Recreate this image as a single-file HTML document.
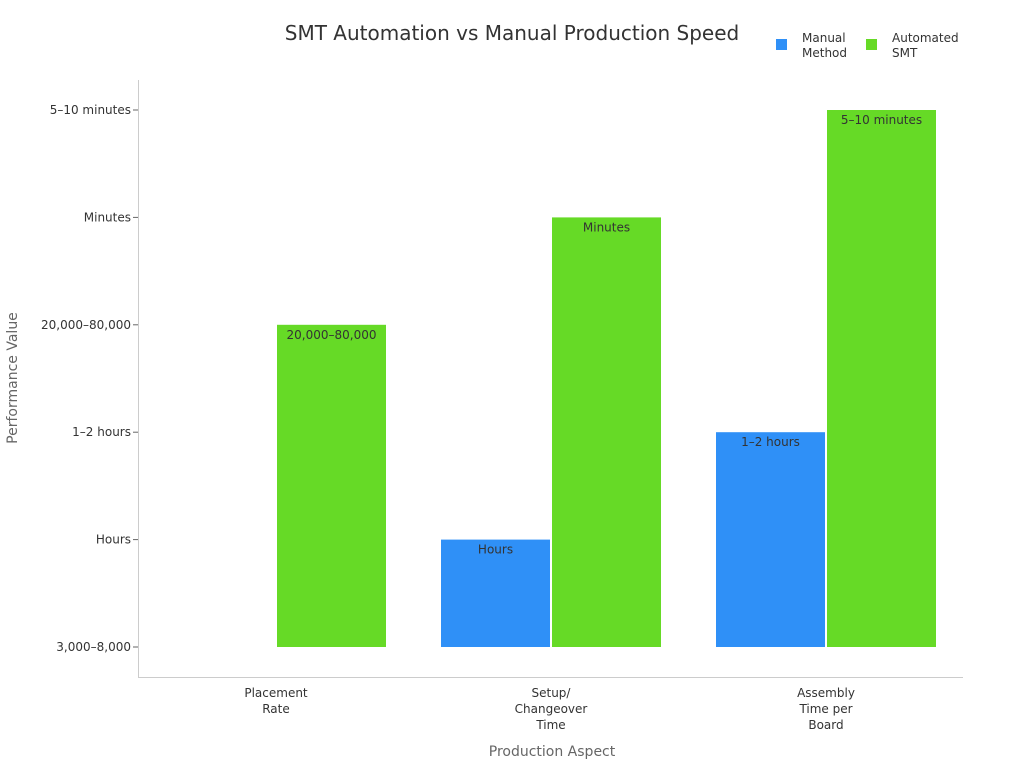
<!DOCTYPE html>
<html><head><meta charset="utf-8"><style>
body{margin:0;background:#fff;font-family:"Liberation Sans","DejaVu Sans",sans-serif}
svg text{font-family:"DejaVu Sans","Liberation Sans",sans-serif}
</style></head><body>
<svg id="chart" width="1024" height="768">
<text x="512" y="40" text-anchor="middle" font-size="20" fill="#333">SMT Automation vs Manual Production Speed</text>
<g>
<rect x="776" y="39" width="11" height="11" fill="#2f90f7"/>
<text x="802" y="42" font-size="12" fill="#333"><tspan x="802">Manual</tspan><tspan x="802" dy="15">Method</tspan></text>
<rect x="866" y="39" width="11" height="11" fill="#66da26"/>
<text x="892" y="42" font-size="12" fill="#333"><tspan x="892">Automated</tspan><tspan x="892" dy="15">SMT</tspan></text>
</g>
<line x1="138.5" y1="80" x2="138.5" y2="677" stroke="#ccc"/>
<line x1="138" y1="677.5" x2="963" y2="677.5" stroke="#ccc"/>
<text transform="translate(17,378) rotate(-90)" text-anchor="middle" font-size="14" fill="#666">Performance Value</text>
<text x="552" y="756" text-anchor="middle" font-size="14" fill="#666">Production Aspect</text>
<g id="ticks"></g><g id="bars"></g>
</svg>
<script>
const yLevels = ["3,000–8,000","Hours","1–2 hours","20,000–80,000","Minutes","5–10 minutes"];
const categories = [["Placement","Rate"],["Setup/","Changeover","Time"],["Assembly","Time per","Board"]];
const manualValues = ["3,000–8,000","Hours","1–2 hours"];
const automatedValues = ["20,000–80,000","Minutes","5–10 minutes"];
const NS="http://www.w3.org/2000/svg";
function y(v){return 647-yLevels.indexOf(v)*107.4;}
function xc(i){return 276+i*275;}
function mk(tag,attrs,parent){const e=document.createElementNS(NS,tag);for(const k in attrs)e.setAttribute(k,attrs[k]);parent.appendChild(e);return e;}
const ticks=document.getElementById('ticks'), bars=document.getElementById('bars');
yLevels.forEach((l,i)=>{
 const yy=y(l);
 const t=mk('line',{x1:133,x2:138,y1:yy,y2:yy,stroke:'#666'},ticks);
 
 
 const tx=mk('text',{x:131,y:yy+4,'text-anchor':'end','font-size':12,fill:'#333'},ticks);
 tx.textContent=l;
 
 
});
categories.forEach((c,i)=>{
 const tx=mk('text',{x:xc(i),y:697,'text-anchor':'middle','font-size':12,fill:'#333'},ticks);
 
 
 c.forEach((s,j)=>{const ts=mk('tspan',{x:xc(i),dy:j?16:0},tx);ts.textContent=s;});
 [[manualValues[i],'#2f90f7',-110,'bar-manual'],[automatedValues[i],'#66da26',1,'bar-automated']].forEach(([v,col,off,nm])=>{
  const top=y(v),h=647-top;
  const r=mk('rect',{x:xc(i)+off,y:top,width:109,height:h,fill:col},bars);
  
  
  if(h>0){
   const lb=mk('text',{x:xc(i)+off+54.5,y:top+14,'text-anchor':'middle','font-size':12,fill:'#333'},bars);
   lb.textContent=v;
   
   
  }
 });
});
</script>
</body></html>
